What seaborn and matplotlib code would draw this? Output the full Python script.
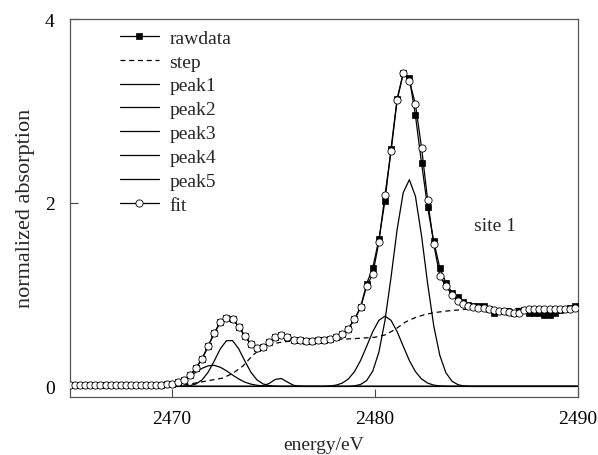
import numpy as np
import pandas as pd
import matplotlib
matplotlib.use("Agg")
import matplotlib.pyplot as plt
import seaborn as sns

# ---------------- data ----------------
energy = [2465.0, 2465.25, 2465.5, 2465.75, 2466.0, 2466.25, 2466.5, 2466.75, 2467.0, 2467.25,
          2467.5, 2467.75, 2468.0, 2468.25, 2468.5, 2468.75, 2469.0, 2469.25, 2469.5, 2469.75,
          2470.0, 2470.3, 2470.6, 2470.9, 2471.2, 2471.5, 2471.8, 2472.1, 2472.4, 2472.7,
          2473.0, 2473.3, 2473.6, 2473.9, 2474.2, 2474.5, 2474.8, 2475.1, 2475.4, 2475.7,
          2476.0, 2476.3, 2476.6, 2476.9, 2477.2, 2477.5, 2477.8, 2478.1, 2478.4, 2478.7,
          2479.0, 2479.3, 2479.6, 2479.9, 2480.2, 2480.5, 2480.8, 2481.1, 2481.4, 2481.7,
          2482.0, 2482.3, 2482.6, 2482.9, 2483.2, 2483.5, 2483.8, 2484.1,
          2484.35, 2484.6, 2484.85, 2485.1, 2485.35, 2485.6, 2485.85, 2486.1, 2486.35, 2486.6,
          2486.85, 2487.1, 2487.35, 2487.6, 2487.85, 2488.1, 2488.35, 2488.6, 2488.85, 2489.1,
          2489.35, 2489.6, 2489.85]

rawdata = [0.01, 0.01, 0.01, 0.01, 0.01, 0.01, 0.01, 0.01, 0.01, 0.01,
           0.01, 0.01, 0.01, 0.01, 0.01, 0.01, 0.01, 0.02, 0.02, 0.03,
           0.03, 0.05, 0.075, 0.12, 0.20, 0.30, 0.44, 0.58, 0.70, 0.75,
           0.735, 0.65, 0.55, 0.46, 0.415, 0.43, 0.48, 0.535, 0.56, 0.535,
           0.51, 0.50, 0.49, 0.49, 0.50, 0.51, 0.52, 0.535, 0.57, 0.63,
           0.73, 0.86, 1.12, 1.29, 1.60, 2.02, 2.59, 3.13, 3.41, 3.36,
           2.95, 2.43, 1.95, 1.58, 1.29, 1.13, 1.02, 0.97,
           0.92, 0.89, 0.87, 0.87, 0.87, 0.84, 0.80, 0.82, 0.82, 0.81,
           0.80, 0.82, 0.83, 0.80, 0.80, 0.80, 0.78, 0.78, 0.80, 0.83,
           0.84, 0.85, 0.88]

fit = [0.01, 0.01, 0.01, 0.01, 0.01, 0.01, 0.01, 0.01, 0.01, 0.01,
       0.01, 0.01, 0.01, 0.01, 0.01, 0.01, 0.01, 0.02, 0.02, 0.03,
       0.03, 0.05, 0.075, 0.12, 0.20, 0.30, 0.44, 0.58, 0.70, 0.75,
       0.735, 0.65, 0.55, 0.46, 0.415, 0.43, 0.48, 0.535, 0.56, 0.535,
       0.51, 0.50, 0.49, 0.49, 0.50, 0.51, 0.52, 0.535, 0.57, 0.63,
       0.73, 0.86, 1.09, 1.225, 1.57, 2.08, 2.56, 3.12, 3.41, 3.33,
       3.07, 2.60, 2.03, 1.55, 1.20, 1.09, 1.00, 0.935,
       0.90, 0.88, 0.86, 0.85, 0.85, 0.84, 0.83, 0.825, 0.82, 0.81,
       0.80, 0.80, 0.83, 0.84, 0.84, 0.84, 0.84, 0.84, 0.84, 0.84,
       0.84, 0.845, 0.85]

step_e = [2465.0, 2470.0, 2470.5, 2471.0, 2471.5, 2472.0, 2472.5, 2473.0, 2473.5, 2474.0,
          2474.5, 2475.0, 2475.5, 2476.0, 2477.0, 2478.0, 2479.0, 2480.0, 2480.5, 2481.0,
          2481.5, 2482.0, 2482.5, 2483.0, 2483.5, 2484.5, 2486.0, 2488.0, 2490.0]
step = [0.0, 0.0, 0.01, 0.03, 0.05, 0.07, 0.09, 0.14, 0.22, 0.34,
        0.43, 0.465, 0.485, 0.495, 0.50, 0.51, 0.52, 0.535, 0.56, 0.62,
        0.70, 0.75, 0.785, 0.805, 0.82, 0.84, 0.845, 0.85, 0.85]

peak1_e = [2465.0, 2469.0, 2469.25, 2469.5, 2469.75, 2470.0, 2470.3, 2470.6, 2470.9, 2471.2,
           2471.5, 2471.8, 2472.1, 2472.4, 2472.7, 2473.0, 2473.3, 2473.6, 2473.9, 2474.2,
           2474.5, 2474.8, 2475.1, 2490.0]
peak1 = [0.0, 0.001, 0.002, 0.005, 0.010, 0.019, 0.039, 0.069, 0.109, 0.155,
         0.197, 0.224, 0.229, 0.208, 0.170, 0.124, 0.081, 0.047, 0.025, 0.012,
         0.005, 0.002, 0.0, 0.0]

peak2_e = [2465.0, 2470.3, 2470.6, 2470.9, 2471.2, 2471.5, 2471.8, 2472.1, 2472.4, 2472.7,
           2473.0, 2473.3, 2473.6, 2473.9, 2474.2, 2474.5, 2474.8, 2475.1, 2475.4, 2490.0]
peak2 = [0.0, 0.0, 0.002, 0.008, 0.027, 0.071, 0.155, 0.278, 0.410, 0.498,
         0.498, 0.410, 0.278, 0.155, 0.071, 0.027, 0.008, 0.002, 0.0, 0.0]

peak3_e = [2465.0, 2474.2, 2474.5, 2474.8, 2475.1, 2475.4, 2475.7, 2476.0, 2476.3, 2476.6, 2490.0]
peak3 = [0.0, 0.0, 0.007, 0.032, 0.076, 0.086, 0.047, 0.012, 0.002, 0.0, 0.0]

peak4_e = [2465.0, 2477.5, 2477.8, 2478.1, 2478.4, 2478.7, 2479.0, 2479.3, 2479.6, 2479.9,
           2480.2, 2480.5, 2480.8, 2481.1, 2481.4, 2481.7, 2482.0, 2482.3, 2482.6, 2482.9,
           2483.2, 2483.5, 2483.8, 2490.0]
peak4 = [0.0, 0.0, 0.005, 0.014, 0.036, 0.081, 0.161, 0.282, 0.437, 0.596,
         0.719, 0.765, 0.719, 0.596, 0.437, 0.282, 0.161, 0.081, 0.036, 0.014,
         0.005, 0.0015, 0.0, 0.0]

peak5_e = [2465.0, 2478.7, 2479.0, 2479.3, 2479.6, 2479.9, 2480.2, 2480.5, 2480.8, 2481.1,
           2481.4, 2481.7, 2482.0, 2482.3, 2482.6, 2482.9, 2483.2, 2483.5, 2483.8, 2484.1,
           2484.35, 2484.6, 2484.85, 2490.0]
peak5 = [0.0, 0.0, 0.006, 0.021, 0.064, 0.167, 0.372, 0.716, 1.19, 1.71,
         2.11, 2.25, 2.07, 1.64, 1.12, 0.66, 0.337, 0.148, 0.056, 0.018,
         0.006, 0.002, 0.0, 0.0]

x_ticks = [2470, 2480, 2490]
y_ticks = [0, 2, 4]
annotation = "site 1"

# ---------------- style ----------------
sns.set_style("ticks")
plt.rcParams["font.family"] = ["Liberation Serif", "DejaVu Serif"]

fig = plt.figure(figsize=(5.98, 4.56), dpi=100)
ax = fig.add_axes([70 / 598, 1 - 397.5 / 456, 508 / 598, 377.5 / 456])

lw = 0.9
sns.lineplot(x=energy, y=rawdata, ax=ax, color="black", lw=lw, marker="s",
             markersize=4.2, markerfacecolor="black", markeredgecolor="black",
             markeredgewidth=0.5, label="rawdata", zorder=3, sort=False)
sns.lineplot(x=step_e, y=step, ax=ax, color="black", lw=lw, linestyle=(0, (4, 3)),
             label="step", zorder=2, sort=False)
for e, v, name in [(peak1_e, peak1, "peak1"), (peak2_e, peak2, "peak2"),
                   (peak3_e, peak3, "peak3"), (peak4_e, peak4, "peak4"),
                   (peak5_e, peak5, "peak5")]:
    sns.lineplot(x=e, y=v, ax=ax, color="black", lw=lw, label=name, zorder=2, sort=False)
sns.lineplot(x=energy, y=fit, ax=ax, color="black", lw=lw, marker="o",
             markersize=5.2, markerfacecolor="white", markeredgecolor="black",
             markeredgewidth=0.6, label="fit", zorder=4, sort=False)

ax.set_xlim(2465, 2490)
ax.set_ylim(-0.11, 4.0)
ax.set_xticks(x_ticks)
ax.set_yticks(y_ticks)
ax.tick_params(direction="in", length=6, width=0.8, colors="#444444",
               labelsize=14, labelcolor="black")
ax.tick_params(axis="x", pad=10)
ax.tick_params(axis="y", pad=11)
for s in ax.spines.values():
    s.set_visible(True)
    s.set_color("#555555")
    s.set_linewidth(0.9)

ax.set_xlabel("energy/eV", fontsize=14, labelpad=6)
ax.set_ylabel("normalized absorption", fontsize=16, labelpad=7)

ax.text(2484.9, 1.75, annotation, fontsize=14, va="center", ha="left")

leg = ax.legend(loc="upper left", bbox_to_anchor=(0.098, 0.973), frameon=False,
                fontsize=14, handlelength=2.0, handletextpad=0.55,
                labelspacing=0.32, borderpad=0.0, borderaxespad=0.0)

fig.savefig("out.png", dpi=100)
